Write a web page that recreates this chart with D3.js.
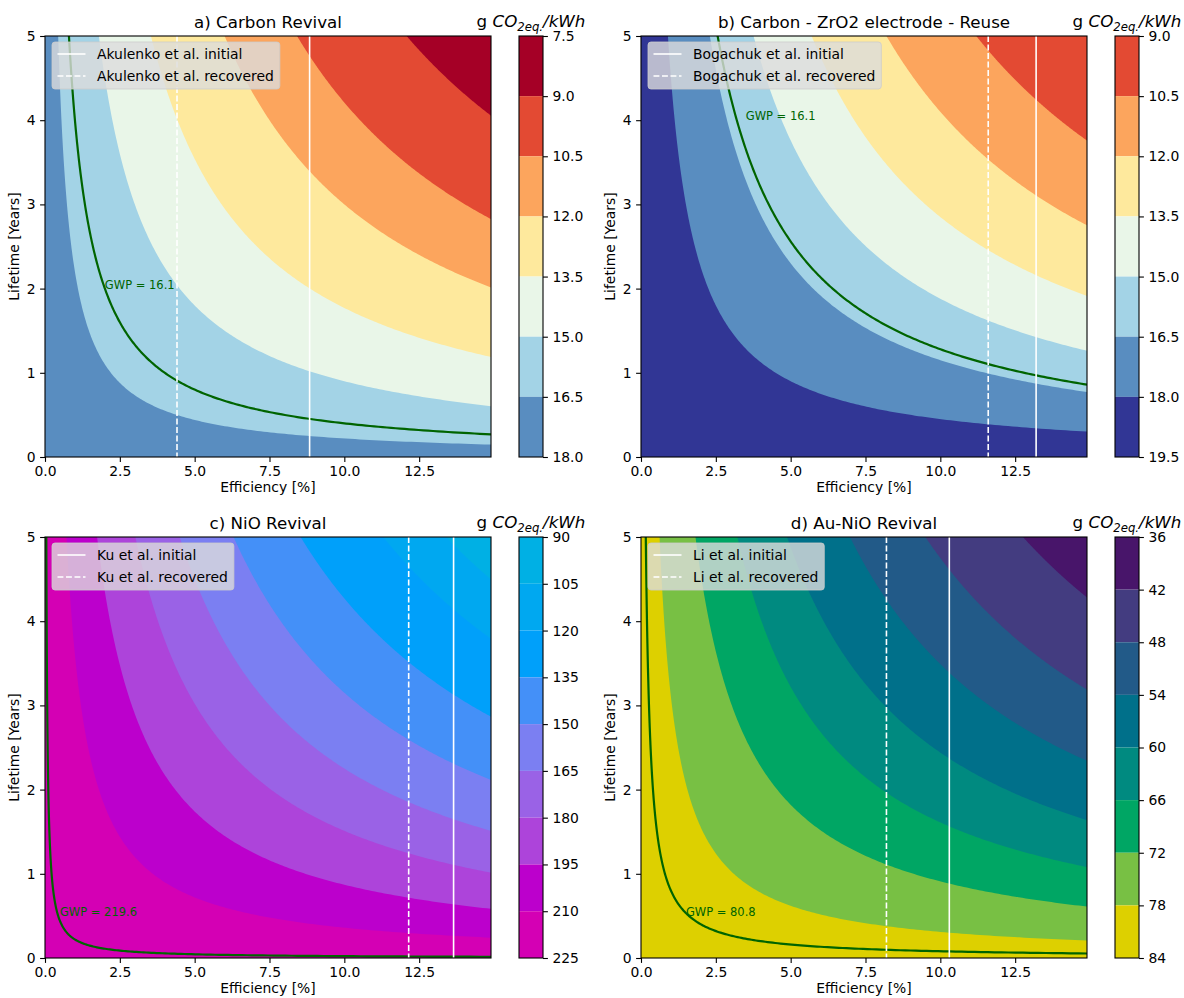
<!DOCTYPE html>
<html>
<head>
<meta charset="utf-8">
<script src="https://cdn.jsdelivr.net/npm/d3@7"></script>
<style>
  body { margin: 0; background: #fff; }
  svg { font-family: "DejaVu Sans", sans-serif; }
</style>
</head>
<body>
<script>
// axis ranges and ticks
const effDomain = [0, 14.9];
const lifeDomain = [0, 5];
const effTicks = [0, 2.5, 5, 7.5, 10, 12.5];
const lifeTicks = [0, 1, 2, 3, 4, 5];

// a) Carbon Revival
const levelsA = [7.5, 9.0, 10.5, 12.0, 13.5, 15.0, 16.5, 18.0];
const productsA = [60.4, 42.1, 30.0, 17.7, 9.0, 2.2];   // efficiency x lifetime on contours 9.0 ... 16.5
const gwpA = 16.1, gwpProductA = 4.0, gwpLabelA = [2.0, 2.0];
const initialA = 8.84, recoveredA = 4.41;

// b) Carbon - ZrO2 electrode - Reuse
const levelsB = [9.0, 10.5, 12.0, 13.5, 15.0, 16.5, 18.0, 19.5];
const productsB = [56, 41, 28.5, 18.8, 11.5, 4.5];
const gwpB = 16.1, gwpProductB = 12.8, gwpLabelB = [3.5, 4.0];
const initialB = 13.2, recoveredB = 11.6;

// c) NiO Revival
const levelsC = [90, 105, 120, 135, 150, 165, 180, 195, 210, 225];
const productsC = [67, 56.5, 42.7, 31.5, 22.5, 15.1, 8.7, 3.6];
const gwpC = 219.6, gwpProductC = 0.22, gwpLabelC = [0.5, 0.5];
const initialC = 13.65, recoveredC = 12.15;

// d) Au-NiO Revival
const levelsD = [36, 42, 48, 54, 60, 66, 72, 78, 84];
const productsD = [63.8, 47.5, 34.9, 24.4, 16.1, 9.1, 3.1];
const gwpD = 80.8, gwpProductD = 0.8, gwpLabelD = [1.5, 0.5];
const initialD = 10.3, recoveredD = 8.2;

// colours
const rdylbu = d3.piecewise(d3.interpolateRgb, d3.schemeRdYlBu[11]);
const colorsA = d3.range(0, 7).map(k => rdylbu(k / 7));
const colorsB = d3.range(1, 8).map(k => rdylbu(k / 7));
const colorsC = ["#00b0e4", "#00a8f0", "#00a0fa", "#4490f8", "#7b7ff2", "#9a62e6", "#ad44da", "#bc00cc", "#d400b4"];
const colorsD = ["#48156a", "#433c80", "#225a88", "#00708a", "#008a80", "#00a664", "#78c044", "#ddd000"];

const panels = [
  {title: "a) Carbon Revival", author: "Akulenko", levels: levelsA, products: productsA, colors: colorsA,
   gwp: gwpA, gwpProduct: gwpProductA, gwpLabel: gwpLabelA, initial: initialA, recovered: recoveredA, fmt: ".1f"},
  {title: "b) Carbon - ZrO2 electrode - Reuse", author: "Bogachuk", levels: levelsB, products: productsB, colors: colorsB,
   gwp: gwpB, gwpProduct: gwpProductB, gwpLabel: gwpLabelB, initial: initialB, recovered: recoveredB, fmt: ".1f"},
  {title: "c) NiO Revival", author: "Ku", levels: levelsC, products: productsC, colors: colorsC,
   gwp: gwpC, gwpProduct: gwpProductC, gwpLabel: gwpLabelC, initial: initialC, recovered: recoveredC, fmt: "d"},
  {title: "d) Au-NiO Revival", author: "Li", levels: levelsD, products: productsD, colors: colorsD,
   gwp: gwpD, gwpProduct: gwpProductD, gwpLabel: gwpLabelD, initial: initialD, recovered: recoveredD, fmt: "d"}
];

const W = 1184, H = 998;
const plotW = 446, plotH = 421;
const origins = [[45, 36], [641, 36], [45, 537], [641, 537]];
const cbOffset = 474, cbW = 24;
const fs = 13.9, titleFs = 16.7;

const svg = d3.select("body").append("svg").attr("width", W).attr("height", H);

// points of an iso-line (efficiency x lifetime = constant)
function isoLine(k) {
  const e0 = Math.max(k / 5.6, 0.005);
  const n = 240;
  return d3.range(n + 1).map(i => {
    const e = e0 * Math.pow(effDomain[1] / e0, i / n);
    return [e, k / e];
  });
}

panels.forEach((p, idx) => {
  const [ox, oy] = origins[idx];
  const g = svg.append("g").attr("transform", `translate(${ox},${oy})`);
  const x = d3.scaleLinear().domain(effDomain).range([0, plotW]);
  const y = d3.scaleLinear().domain(lifeDomain).range([plotH, 0]);

  const clipId = "clip" + idx;
  g.append("clipPath").attr("id", clipId).append("rect").attr("width", plotW).attr("height", plotH);
  const body = g.append("g").attr("clip-path", `url(#${clipId})`);

  // filled contour bands, highest level first
  const nb = p.levels.length - 1;
  body.append("rect").attr("width", plotW).attr("height", plotH).attr("fill", p.colors[nb - 1]);
  const area = d3.area().x(d => x(d[0])).y0(0).y1(d => y(d[1]));
  for (let j = nb - 1; j >= 1; j--) {
    body.append("path")
      .attr("d", area(isoLine(p.products[j - 1])))
      .attr("fill", p.colors[j - 1]);
  }

  // GWP iso-line
  const line = d3.line().x(d => x(d[0])).y(d => y(d[1]));
  body.append("path")
    .attr("d", line(isoLine(p.gwpProduct)))
    .attr("fill", "none")
    .attr("stroke", "#006400")
    .attr("stroke-width", 2.2);
  body.append("text")
    .attr("x", x(p.gwpLabel[0]))
    .attr("y", y(p.gwpLabel[1]))
    .attr("fill", "#006400")
    .style("font-size", "11.5px")
    .text(`GWP = ${p.gwp}`);

  // initial / recovered efficiency
  body.append("line")
    .attr("x1", x(p.initial)).attr("x2", x(p.initial))
    .attr("y1", 0).attr("y2", plotH)
    .attr("stroke", "#fff").attr("stroke-width", 1.6);
  body.append("line")
    .attr("x1", x(p.recovered)).attr("x2", x(p.recovered))
    .attr("y1", 0).attr("y2", plotH)
    .attr("stroke", "#fff").attr("stroke-width", 1.6)
    .attr("stroke-dasharray", "5.9,2.6");

  // axes
  const xAxis = g.append("g")
    .attr("transform", `translate(0,${plotH})`)
    .call(d3.axisBottom(x).tickValues(effTicks).tickFormat(d3.format(".1f")).tickSize(4.9).tickPadding(4.2).tickSizeOuter(0));
  const yAxis = g.append("g")
    .call(d3.axisLeft(y).tickValues(lifeTicks).tickFormat(d3.format("d")).tickSize(4.9).tickPadding(4.5).tickSizeOuter(0));
  [xAxis, yAxis].forEach(a => {
    a.select(".domain").remove();
    a.selectAll("line").attr("stroke", "#000").attr("stroke-width", 1.1);
    a.selectAll("text").attr("fill", "#000").style("font-size", fs + "px").style("font-family", "DejaVu Sans");
  });
  g.append("rect").attr("width", plotW).attr("height", plotH)
    .attr("fill", "none").attr("stroke", "#000").attr("stroke-width", 1.1);

  g.append("text")
    .attr("x", plotW / 2).attr("y", plotH + 35)
    .attr("text-anchor", "middle").style("font-size", fs + "px")
    .text("Efficiency [%]");
  g.append("text")
    .attr("transform", `translate(-26,${plotH / 2}) rotate(-90)`)
    .attr("text-anchor", "middle").style("font-size", fs + "px")
    .text("Lifetime [Years]");
  g.append("text")
    .attr("x", plotW / 2).attr("y", -8)
    .attr("text-anchor", "middle").style("font-size", titleFs + "px")
    .text(p.title);

  // legend
  const leg = g.append("g").attr("transform", "translate(7,6)");
  const legBox = leg.append("rect").attr("rx", 3).attr("height", 47)
    .attr("fill", "rgb(220,220,220)").attr("fill-opacity", 0.8)
    .attr("stroke", "rgb(204,204,204)").attr("stroke-opacity", 0.8);
  const entries = [
    {label: `${p.author} et al. initial`, dash: null},
    {label: `${p.author} et al. recovered`, dash: "5.9,2.6"}
  ];
  let maxW = 0;
  entries.forEach((e, i) => {
    const cy = 12 + i * 22;
    leg.append("line").attr("x1", 5.5).attr("x2", 33.5).attr("y1", cy).attr("y2", cy)
      .attr("stroke", "#fff").attr("stroke-width", 1.6)
      .attr("stroke-dasharray", e.dash);
    const t = leg.append("text").attr("x", 45).attr("y", cy).attr("dy", "0.36em")
      .style("font-size", fs + "px").attr("fill", "#000").text(e.label);
    maxW = Math.max(maxW, t.node().getComputedTextLength());
  });
  legBox.attr("width", 45 + maxW + 6);

  // colorbar
  const cb = g.append("g").attr("transform", `translate(${cbOffset},0)`);
  const cy = d3.scaleLinear().domain([p.levels[0], p.levels[nb]]).range([0, plotH]);
  cb.selectAll("rect.band")
    .data(d3.range(nb))
    .join("rect")
    .attr("class", "band")
    .attr("x", 0).attr("width", cbW)
    .attr("y", i => cy(p.levels[i]))
    .attr("height", i => cy(p.levels[i + 1]) - cy(p.levels[i]))
    .attr("fill", i => p.colors[i]);
  const cbAxis = cb.append("g").attr("transform", `translate(${cbW},0)`)
    .call(d3.axisRight(cy).tickValues(p.levels).tickFormat(d3.format(p.fmt)).tickSize(4.9).tickPadding(4.5).tickSizeOuter(0));
  cbAxis.select(".domain").remove();
  cbAxis.selectAll("line").attr("stroke", "#000").attr("stroke-width", 1.1);
  cbAxis.selectAll("text").attr("fill", "#000").style("font-size", fs + "px").style("font-family", "DejaVu Sans");
  cb.append("rect").attr("width", cbW).attr("height", plotH)
    .attr("fill", "none").attr("stroke", "#000").attr("stroke-width", 1.1);

  const unit = cb.append("text")
    .attr("x", cbW / 2).attr("y", -9)
    .attr("text-anchor", "middle").style("font-size", titleFs + "px");
  unit.append("tspan").text("g ");
  unit.append("tspan").attr("font-style", "italic").text("CO");
  unit.append("tspan").attr("font-style", "italic").style("font-size", "11.7px").attr("dy", 4).text("2eq.");
  unit.append("tspan").attr("font-style", "italic").attr("dy", -4).text("/kWh");
});
</script>
</body>
</html>
